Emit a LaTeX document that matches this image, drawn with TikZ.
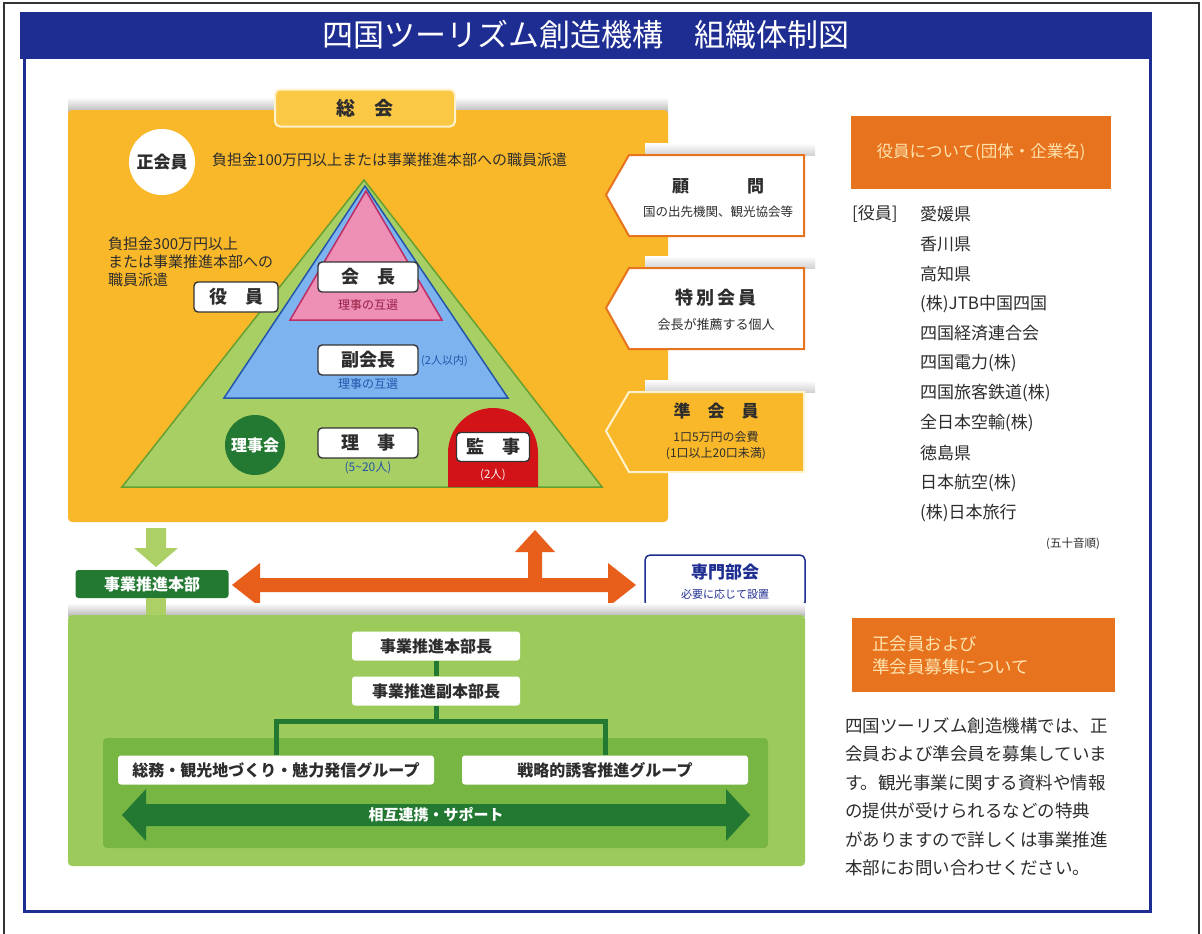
\documentclass[tikz,border=0pt]{standalone}
\usepackage{fontspec}
\setmainfont{Noto Sans CJK JP}
\usetikzlibrary{arrows.meta}
\newcommand\fsz[2]{\fontsize{#1}{#2}\selectfont}
\definecolor{navy}{RGB}{30,45,145}
\definecolor{gold}{RGB}{248,184,42}
\definecolor{goldlight}{RGB}{251,200,70}
\definecolor{cream}{RGB}{255,242,205}
\definecolor{pgreen}{RGB}{168,207,99}
\definecolor{pgreenline}{RGB}{100,160,50}
\definecolor{pblue}{RGB}{125,180,240}
\definecolor{pblueline}{RGB}{35,85,170}
\definecolor{ppink}{RGB}{238,143,181}
\definecolor{ppinkline}{RGB}{190,45,100}
\definecolor{ppinktext}{RGB}{150,30,70}
\definecolor{dgreen}{RGB}{35,120,50}
\definecolor{kred}{RGB}{210,20,25}
\definecolor{orng}{RGB}{232,115,30}
\definecolor{arrorng}{RGB}{232,95,28}
\definecolor{lgreen}{RGB}{157,203,91}
\definecolor{mgreen}{RGB}{120,182,67}
\definecolor{lgarrow}{RGB}{172,208,102}
\definecolor{txt}{RGB}{45,45,45}
\definecolor{headtxt}{RGB}{253,228,175}
\begin{document}
\begin{tikzpicture}[x=1pt,y=-1pt,
  pbox/.style={draw=black!80, line width=1.4, fill=white, rounded corners=4, minimum height=30, minimum width=100, inner sep=0, font=\bfseries\fsz{18}{20}, text=txt},
  wbox/.style={fill=white, rounded corners=3, minimum height=29, inner sep=0, font=\bfseries\fsz{16}{18}, text=txt},
  note/.style={font=\fsz{12}{14}, inner sep=0},
  body/.style={font=\fsz{15}{18}, text=txt, inner sep=0},
  pent/.style={line width=2},
  shadowband/.style={top color=white, bottom color=gray!55},
  softband/.style={top color=white, bottom color=gray!35}]
\useasboundingbox (0,0) rectangle (1202,934);
\fill[white] (0,0) rectangle (1202,934);
% frames
\draw[black!80, line width=1.2] (4,934) -- (4,3) -- (1199,3) -- (1199,934);
\fill[navy] (20,12) rectangle (1152,59);
\draw[navy, line width=3] (24,59) -- (24,911) -- (1150,911) -- (1150,59);
\node[white, font=\fsz{31}{36}, inner sep=0] (title) at (586,35) {四国ツーリズム創造機構　組織体制図};

% ===== upper orange panel =====
\shade[shadowband] (68,97) rectangle (668,112);
\fill[gold, rounded corners=4] (68,110) rectangle (668,522);
\node[draw=cream, line width=2, fill=goldlight, rounded corners=5, minimum width=180, minimum height=37, inner sep=0, font=\bfseries\fsz{19}{22}, text=txt] (soukai) at (365,108) {総　会};
\node[circle, fill=white, minimum size=66, inner sep=0, font=\bfseries\fsz{17}{19}, text=txt] (seikaiin) at (162,162) {正会員};
\node[body, anchor=west] (seidesc) at (212,160) {負担金100万円以上または事業推進本部への職員派遣};

% pyramid
\draw[fill=pgreen, draw=pgreenline, line width=1.5] (364,180) -- (602,487) -- (122,487) -- cycle;
\draw[fill=pblue, draw=pblueline, line width=1.5] (365,186) -- (508,398) -- (224,398) -- cycle;
\draw[fill=ppink, draw=ppinkline, line width=1.5] (366,191) -- (442,320) -- (290,320) -- cycle;

\node[pbox] (kaicho) at (368,277) {会　長};
\node[note, text=ppinktext] (kaichosel) at (368,305) {理事の互選};
\node[pbox] (fuku) at (368,360) {副会長};
\node[note, text=pblueline, font=\fsz{11}{13}, anchor=west] (fukunum) at (421,361) {(2人以内)};
\node[note, text=pblueline] (fukusel) at (368,384) {理事の互選};
\node[pbox] (riji) at (368,443) {理　事};
\node[note, text=pblueline] (rijinum) at (368,468) {(5\string~20人)};
\node[circle, fill=dgreen, minimum size=60, inner sep=0, font=\bfseries\fsz{16}{18}, text=white] (rijikai) at (255,445) {理事会};
\node[pbox, minimum width=84] (yakuin) at (236,297) {役　員};
\node[body, anchor=west, align=left] (yakuindesc) at (108,262) {負担金300万円以上\\または事業推進本部への\\職員派遣};

% kanji (auditor)
\fill[kred] (448,487) -- (448,453) arc[start angle=180, end angle=360, radius=45] -- (538,487) -- cycle;
\node[pbox, minimum width=73, minimum height=29] (kanji) at (493,447) {監　事};
\node[note, text=white!75!pink, font=\fsz{11.5}{13}] (kanjinum) at (493,475) {(2人)};

% right pentagons
\shade[softband] (645,143) rectangle (815,155);
\draw[pent, fill=white, draw=orng] (629,155) -- (804,155) -- (804,236) -- (629,236) -- (606,195) -- cycle;
\node[font=\bfseries\fsz{17}{20}, text=txt, inner sep=0] (komon) at (718,186) {顧\hspace{58pt}問};
\node[note, text=txt, font=\fsz{12.5}{14}] (komondesc) at (718,212) {国の出先機関、観光協会等};

\shade[softband] (645,256) rectangle (815,268);
\draw[pent, fill=white, draw=orng] (629,268) -- (804,268) -- (804,349) -- (629,349) -- (606,308) -- cycle;
\node[font=\bfseries\fsz{18}{20}, text=txt, inner sep=0] (tokubetsu) at (716,298) {特\,別\,会\,員};
\node[note, text=txt, font=\fsz{13}{15}] (tokudesc) at (716,325) {会長が推薦する個人};

\shade[softband] (645,380) rectangle (815,392);
\draw[pent, fill=gold, draw=cream] (629,392) -- (804,392) -- (804,472) -- (629,472) -- (606,431) -- cycle;
\node[font=\bfseries\fsz{17}{20}, text=txt, inner sep=0] (junkaiin) at (716,411) {準　会　員};
\node[note, text=txt, font=\fsz{12}{14}] (jundesc1) at (716,437) {1口5万円の会費};
\node[note, text=txt, font=\fsz{12}{14}] (jundesc2) at (716,454) {(1口以上20口未満)};

% ===== middle row =====
\fill[lgarrow] (146,528) -- (166,528) -- (166,548) -- (178,548) -- (156,567) -- (134,548) -- (146,548) -- cycle;
\node[fill=dgreen, rounded corners=3, minimum width=153, minimum height=28, inner sep=0, font=\bfseries\fsz{16}{18}, text=white] (honbu) at (152,584) {事業推進本部};
\fill[arrorng] (232,585) -- (260,563) -- (260,578) -- (528,578) -- (528,552) -- (515,552) -- (535,530) -- (555,552) -- (542,552) -- (542,578) -- (608,578) -- (608,563) -- (636,585) -- (608,607) -- (608,592) -- (260,592) -- (260,607) -- cycle;
\node[draw=navy, line width=1.5, fill=white, rounded corners=5, minimum width=160, minimum height=52, inner sep=0] (senmon) at (725,581) {};
\node[font=\bfseries\fsz{17}{20}, text=navy, inner sep=0] (senmont) at (725,572) {専門部会};
\node[font=\fsz{11}{13}, text=navy, inner sep=0] (senmond) at (725,594) {必要に応じて設置};

% ===== lower green panel =====
\shade[shadowband] (68,603) rectangle (805,616);
\fill[lgarrow] (146,598) rectangle (166,616);
\fill[lgreen, rounded corners=4] (68,615) rectangle (805,866);
\fill[mgreen, rounded corners=4] (103,738) rectangle (768,848);
\node[wbox, minimum width=168] (hbc) at (436,646) {事業推進本部長};
\node[wbox, minimum width=168] (fhbc) at (436,691) {事業推進副本部長};
\node[wbox, minimum width=316] (g1) at (276,770) {総務・観光地づくり・魅力発信グループ};
\node[wbox, minimum width=286] (g2) at (605,770) {戦略的誘客推進グループ};
\draw[dgreen, line width=5] (hbc.south) -- (fhbc.north);
\draw[dgreen, line width=5] (fhbc.south) -- ++(0,16) coordinate (branch) -| (g1.north);
\draw[dgreen, line width=5] (branch) -| (g2.north);
\fill[dgreen] (122,815) -- (146,789) -- (146,804) -- (726,804) -- (726,789) -- (750,815) -- (726,841) -- (726,826) -- (146,826) -- (146,841) -- cycle;
\node[font=\bfseries\fsz{15}{17}, text=white, inner sep=0] (sougo) at (436,815) {相互連携・サポート};

% ===== right column =====
\node[fill=orng, minimum width=260, minimum height=73, inner sep=0, font=\fsz{16.5}{19}, text=headtxt] (yhead) at (981,152) {役員について(団体・企業名)};
\node[body, font=\fsz{17}{20}, anchor=west] (ylabel) at (852,214) {[役員]};
\foreach \t [count=\i] in {愛媛県,香川県,高知県,(株)JTB中国四国,四国経済連合会,四国電力(株),四国旅客鉄道(株),全日本空輸(株),徳島県,日本航空(株),(株)日本旅行}
  \node[body, font=\fsz{17}{20}, anchor=west] (item\i) at (920,{214+29.9*(\i-1)}) {\t};
\node[note, text=txt, font=\fsz{11.5}{13}] (gojuon) at (1073,544) {(五十音順)};

\node[fill=orng, minimum width=263, minimum height=74, inner sep=0] (bhead) at (983,655) {};
\node[anchor=west, align=left, font=\fsz{17.5}{23}, text=headtxt, inner sep=0] (bheadt) at (872,655) {正会員および\\準会員募集について};
\node[anchor=west, align=left, font=\fsz{17.5}{28.5}, text=txt, inner sep=0] (para) at (845,797) {四国ツーリズム創造機構では、正\\会員および準会員を募集していま\\す。観光事業に関する資料や情報\\の提供が受けられるなどの特典\\がありますので詳しくは事業推進\\本部にお問い合わせください。};
\end{tikzpicture}
\end{document}
